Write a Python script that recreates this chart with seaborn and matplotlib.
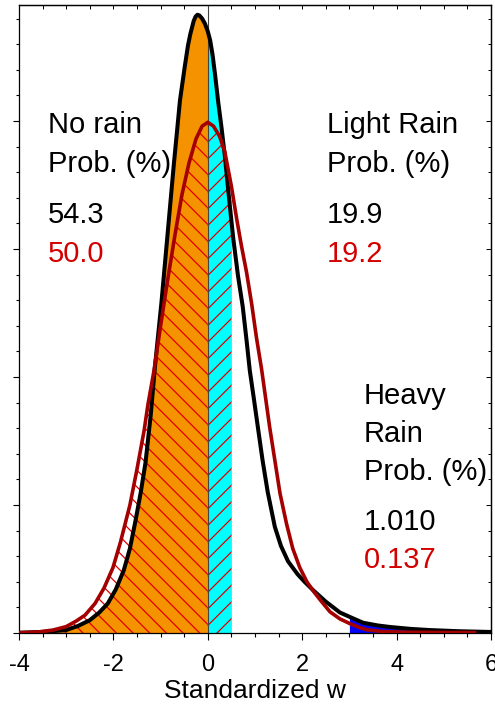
import numpy as np
import pandas as pd
import matplotlib
matplotlib.use("Agg")
import matplotlib.pyplot as plt
import seaborn as sns
from matplotlib.ticker import MultipleLocator

# ---- data ----
# black curve (sample 1)
x_black = [-4.0, -3.5, -3.0, -2.75, -2.5, -2.3, -2.12, -1.95, -1.78, -1.65, -1.53, -1.42,
           -1.32, -1.21, -1.12, -0.98, -0.85, -0.72, -0.66, -0.59, -0.49, -0.42, -0.37,
           -0.30, -0.26, -0.22, -0.18, -0.12, -0.06, 0.0, 0.05, 0.10, 0.155, 0.22, 0.29,
           0.36, 0.43, 0.50, 0.54, 0.64, 0.74, 0.82, 0.89, 0.98, 1.06, 1.16, 1.27, 1.42,
           1.55, 1.7, 1.9, 2.05, 2.23, 2.5, 2.8, 3.0, 3.29, 3.6, 3.86, 4.3, 4.7, 5.3, 6.0]
y_black = [0.0002, 0.0008, 0.0023, 0.0055, 0.010, 0.016, 0.023, 0.034, 0.049, 0.066, 0.088,
           0.110, 0.133, 0.170, 0.208, 0.259, 0.3125, 0.366, 0.389, 0.416, 0.442, 0.459,
           0.468, 0.478, 0.4815, 0.483, 0.4825, 0.480, 0.476, 0.470, 0.463, 0.452, 0.436,
           0.415, 0.395, 0.373, 0.347, 0.322, 0.308, 0.279, 0.255, 0.229, 0.205, 0.182,
           0.161, 0.135, 0.110, 0.083, 0.068, 0.056, 0.046, 0.040, 0.0335, 0.0245, 0.0160,
           0.0127, 0.0080, 0.0059, 0.0047, 0.0032, 0.0023, 0.0014, 0.0008]
# red curve (sample 2)
x_red = [-4.0, -3.6, -3.28, -3.0, -2.78, -2.6, -2.39, -2.2, -2.01, -1.85, -1.65, -1.5,
         -1.35, -1.27, -1.14, -1.0, -0.85, -0.7, -0.55, -0.4, -0.25, -0.12, 0.0, 0.12,
         0.25, 0.36, 0.5, 0.61, 0.71, 0.82, 0.93, 1.03, 1.14, 1.31, 1.53, 1.67, 1.8,
         1.95, 2.1, 2.23, 2.4, 2.59, 2.8, 3.0, 3.2, 3.37, 3.7, 4.2, 5.0, 5.69]
y_red = [0.0002, 0.0008, 0.0023, 0.0050, 0.0095, 0.0140, 0.023, 0.035, 0.051, 0.071, 0.100,
         0.128, 0.158, 0.178, 0.205, 0.240, 0.276, 0.310, 0.342, 0.367, 0.386, 0.396,
         0.399, 0.396, 0.388, 0.376, 0.349, 0.324, 0.303, 0.282, 0.257, 0.231, 0.206,
         0.161, 0.109, 0.085, 0.066, 0.051, 0.040, 0.033, 0.025, 0.0165, 0.011, 0.0075,
         0.0045, 0.0025, 0.0012, 0.0006, 0.0004, 0.0003]

# thresholds
no_rain_max = 0.0
light_rain_max = 0.5
heavy_rain_min = 3.0

# probability labels
prob_black = ["54.3", "19.9", "1.010"]
prob_red = ["50.0", "19.2", "0.137"]

x_ticks = [-4, -2, 0, 2, 4, 6]

# ---- style ----
sns.set_style("ticks")
plt.rcParams["font.family"] = ["Liberation Sans", "DejaVu Sans"]
plt.rcParams["axes.unicode_minus"] = False
plt.rcParams["hatch.linewidth"] = 0.9
plt.rcParams["text.color"] = "black"
plt.rcParams["axes.labelcolor"] = "black"
plt.rcParams["xtick.color"] = "black"
plt.rcParams["ytick.color"] = "black"
plt.rcParams["axes.edgecolor"] = "black"

W, H = 495, 705
fig = plt.figure(figsize=(W / 100, H / 100), dpi=100)
ax = fig.add_axes([19 / W, 1 - 633 / H, 472 / W, 628 / H])

df_b = pd.DataFrame({"x": x_black, "y": y_black})
df_r = pd.DataFrame({"x": x_red, "y": y_red})
xb = df_b["x"].to_numpy(); yb = df_b["y"].to_numpy()
xr = df_r["x"].to_numpy(); yr = df_r["y"].to_numpy()

orange = "#F59200"
cyan = "#00FFFF"
blue = "#0000FF"
hatch_red = "#E00000"
curve_red = "#A50000"
text_red = "#D40000"

# fills under black curve
m = xb <= no_rain_max
ax.fill_between(xb[m], 0, yb[m], facecolor=orange, linewidth=0, zorder=1)
m = (xb >= no_rain_max) & (xb <= light_rain_max)
ax.fill_between(xb[m], 0, yb[m], facecolor=cyan, linewidth=0, zorder=1)
m = xb >= heavy_rain_min
ax.fill_between(xb[m], 0, yb[m], facecolor=blue, linewidth=0, zorder=1)

# hatches under red curve
m = xr <= no_rain_max
ax.fill_between(xr[m], 0, yr[m], facecolor="none", edgecolor=hatch_red, hatch="\\\\",
                linewidth=0, zorder=2)
m = (xr >= no_rain_max) & (xr <= light_rain_max)
ax.fill_between(xr[m], 0, yr[m], facecolor="none", edgecolor=hatch_red, hatch="//",
                linewidth=0, zorder=2)

ax.axvline(0, color="#444444", linewidth=0.8, zorder=2.5)

sns.lineplot(data=df_b, x="x", y="y", ax=ax, color="black", linewidth=2.9, zorder=3,
             solid_joinstyle="round", solid_capstyle="butt")
sns.lineplot(data=df_r, x="x", y="y", ax=ax, color=curve_red, linewidth=2.6, zorder=4,
             solid_joinstyle="round", solid_capstyle="butt")

ax.set_xlim(-4, 6)
ax.set_ylim(0, 628 / 1280)
ax.set_xticks(x_ticks)
ax.set_xticklabels([str(t) for t in x_ticks])
ax.xaxis.set_minor_locator(MultipleLocator(0.5))
ax.yaxis.set_major_locator(MultipleLocator(0.1))
ax.yaxis.set_minor_locator(MultipleLocator(0.02))
ax.set_yticklabels([])
ax.tick_params(axis="x", which="major", direction="out", length=5, width=0.8,
               labelsize=17, pad=10, colors="black")
ax.tick_params(axis="x", which="minor", direction="out", length=3, width=0.8)
ax.tick_params(axis="y", which="major", direction="out", length=4, width=0.8, labelleft=False)
ax.tick_params(axis="y", which="minor", direction="out", length=2.5, width=0.8)
ax.set_xlabel("Standardized w", fontsize=19, labelpad=2, color="black")
ax.set_ylabel("")
for s in ax.spines.values():
    s.set_linewidth(0.9)
    s.set_color("black")
    s.set_visible(True)

sec_x = ax.secondary_xaxis("top")
sec_x.set_xticks(x_ticks)
sec_x.xaxis.set_minor_locator(MultipleLocator(0.5))
sec_x.tick_params(which="both", direction="in", length=3, width=0.7, labeltop=False)
sec_x.spines["top"].set_linewidth(0.9)
sec_y = ax.secondary_yaxis("right")
sec_y.yaxis.set_major_locator(MultipleLocator(0.1))
sec_y.yaxis.set_minor_locator(MultipleLocator(0.02))
sec_y.tick_params(which="major", direction="in", length=3.5, width=0.7, labelright=False)
sec_y.tick_params(which="minor", direction="in", length=2.5, width=0.7)
sec_y.spines["right"].set_linewidth(0.9)

def ax_pos(px, py):
    return (px - 19) / 472, (633 - py) / 628

fs = 21
tr = ax.transAxes
def label(px, py, s, color="black"):
    ax.text(*ax_pos(px, py), s, fontsize=fs, transform=tr, va="baseline", color=color)

# No rain
label(48, 133, "No rain")
label(48, 172, "Prob. (%)")
label(48, 223, prob_black[0])
label(48, 262, prob_red[0], text_red)
# Light rain
label(327, 133, "Light Rain")
label(327, 172, "Prob. (%)")
label(327, 223, prob_black[1])
label(327, 262, prob_red[1], text_red)
# Heavy rain
label(364, 404, "Heavy")
label(364, 442, "Rain")
label(364, 480, "Prob. (%)")
label(364, 530, prob_black[2])
label(364, 568, prob_red[2], text_red)

fig.savefig("out.png", dpi=100)
